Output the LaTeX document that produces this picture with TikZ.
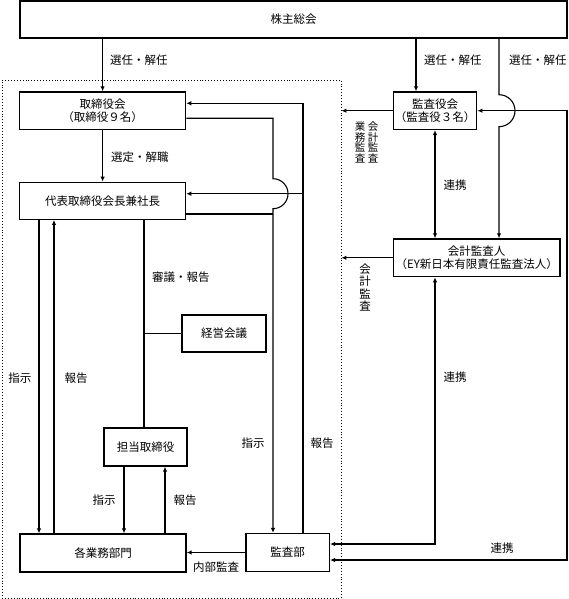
\documentclass[tikz,border=0pt]{standalone}
\usepackage{fontspec}
\setmainfont{Noto Sans CJK JP}
\usetikzlibrary{arrows.meta,calc}
\begin{document}
\begin{tikzpicture}[x=1pt,y=1pt,
  box/.style={draw,line width=1.3pt,inner sep=0pt,align=center,font=\fontsize{11.5}{13.5}\selectfont},
  lbl/.style={inner sep=0pt,font=\fontsize{11.5}{12}\selectfont},
  vlbl/.style={inner sep=0pt,align=center,font=\fontsize{10.5}{10.5}\selectfont},
  vlblb/.style={inner sep=0pt,align=center,font=\fontsize{11.5}{12.2}\selectfont},
  con/.style={line width=1.1pt},
  arr/.style={con,-{Latex[length=5pt,width=4.5pt]}},
  darr/.style={con,{Latex[length=5pt,width=4.5pt]}-{Latex[length=5pt,width=4.5pt]}}]
\useasboundingbox (0,0) rectangle (568,-599);
% group frame
\node[draw,dotted,line width=0.9pt,minimum width=339pt,minimum height=518pt,inner sep=0pt] (grp) at (171.5,-339) {};
% boxes
\node[box,minimum width=547pt,minimum height=37pt] (kabu) at (293.5,-19.5) {株主総会};
\node[box,minimum width=166pt,minimum height=37.5pt] (tori) at (102.6,-110.7) {取締役会\\（取締役９名）};
\node[box,minimum width=166pt,minimum height=37pt] (daihyo) at (102.6,-200.8) {代表取締役会長兼社長};
\node[box,minimum width=84pt,minimum height=37pt] (keiei) at (224,-333.5) {経営会議};
\node[box,minimum width=83pt,minimum height=38pt] (tanto) at (145.5,-447) {担当取締役};
\node[box,minimum width=166pt,minimum height=38pt] (kakugyo) at (103,-553) {各業務部門};
\node[box,minimum width=83.5pt,minimum height=38pt] (kansabu) at (287.7,-552.5) {監査部};
\node[box,minimum width=83.4pt,minimum height=37.5pt] (kansayaku) at (435,-110.7) {監査役会\\（監査役３名）};
\node[box,minimum width=166.7pt,minimum height=37.7pt] (kaikei) at (476.7,-257.8) {会計監査人\\（EY新日本有限責任監査法人）};
% helper coordinates
\coordinate (c416) at (416,0);
\coordinate (c499) at (499,-110.7);
\coordinate (c303) at (303,0);
\coordinate (c273) at (273,0);
\coordinate (c144) at (144,0);
\coordinate (c39) at (39,0);
\coordinate (c54) at (54,0);
\coordinate (c124) at (124,0);
\coordinate (c165) at (165,0);
\coordinate (rr) at (567,0);
\coordinate (t0) at ($(tori.east)+(0,7.4)$);
\coordinate (t1) at ($(tori.east)+(0,-7.6)$);
\coordinate (d1) at ($(daihyo.east)+(0,7.1)$);
\coordinate (d2) at ($(daihyo.east)+(0,-13.2)$);
\coordinate (k1) at ($(kansabu.east)+(0,8.5)$);
\coordinate (k2) at ($(kansabu.east)+(0,-7.5)$);
% shareholders
\draw[arr] (kabu.south -| tori.north) -- (tori.north);
\node[lbl,anchor=west] at (110,-60) {選任・解任};
\draw[arr] (kabu.south -| c416) -- (kansayaku.north -| c416);
\node[lbl,anchor=west] at (424,-60) {選任・解任};
\draw[arr] (kabu.south -| c499) -- ($(c499)+(0,16)$) arc(90:-90:16) -- (kaikei.north -| c499);
\node[lbl,anchor=west] at (509,-60) {選任・解任};
% board
\draw[arr] (tori.south) -- (daihyo.north);
\node[lbl,anchor=west] at (111,-157) {選定・解職};
% audit board
\draw[arr] (kansayaku.west) -- (kansayaku.west -| grp.east);
\node[vlbl] at (360,-142.5) {業\\務\\監\\査};
\node[vlbl] at (373,-142.5) {会\\計\\監\\査};
\draw[darr] (kansayaku.south) -- (kansayaku.south |- kaikei.north);
\node[lbl] at (455,-185) {連携};
\draw[arr] (kaikei.west) -- (kaikei.west -| grp.east);
\node[vlblb] at (365,-287.5) {会\\計\\監\\査};
\draw[darr] (kaikei.south -| kansayaku.south) |- (k1);
\node[lbl] at (455,-377) {連携};
\draw[darr] (k2) -| (kansayaku.east -| rr) -- (kansayaku.east);
\node[lbl] at (502,-548) {連携};
% internal audit dept
\draw[arr] (kansabu.north -| c303) |- (t0);
\draw[arr] (d1 -| c303) -- (d1);
\node[lbl] at (322,-443) {報告};
\draw[arr] (t1) -| ($(d1 -| c273)+(0,15)$) arc(90:-90:15) -- (kansabu.north -| c273);
\draw[con] (d2) -- (d2 -| c273);
\node[lbl] at (253,-443) {指示};
% president
\draw[con] (daihyo.south -| c144) -- (tanto.north -| c144);
\draw[con] (keiei.west -| c144) -- (keiei.west);
\node[lbl,anchor=west] at (152,-277) {審議・報告};
\draw[arr] (daihyo.south -| c39) -- (kakugyo.north -| c39);
\draw[arr] (kakugyo.north -| c54) -- (daihyo.south -| c54);
\node[lbl] at (20,-378) {指示};
\node[lbl] at (76,-378) {報告};
\draw[arr] (tanto.south -| c124) -- (kakugyo.north -| c124);
\draw[arr] (kakugyo.north -| c165) -- (tanto.south -| c165);
\node[lbl] at (104,-500) {指示};
\node[lbl] at (185,-500) {報告};
\draw[arr] (kansabu.west) -- (kansabu.west -| kakugyo.east);
\node[lbl] at (216,-567) {内部監査};
\end{tikzpicture}
\end{document}
